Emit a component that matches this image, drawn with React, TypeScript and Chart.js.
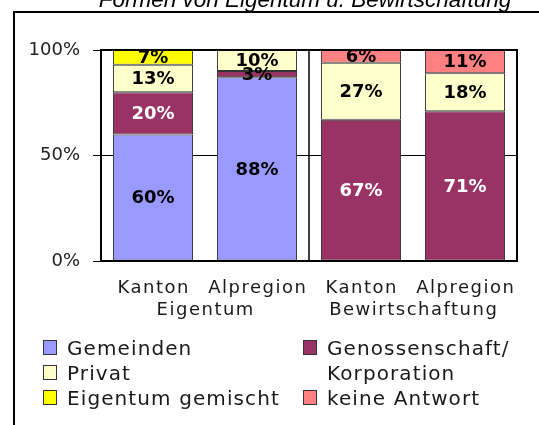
import React, { useEffect, useRef } from 'react';
import { Chart, registerables } from 'chart.js';
Chart.register(...registerables);

const TITLE = 'Formen von Eigentum u. Bewirtschaftung';
const categories = ['Kanton', 'Alpregion', 'Kanton', 'Alpregion'];
const groups = ['Eigentum', 'Bewirtschaftung'];
const groupSpans = [[0, 1], [2, 3]];
const seriesNames = ['Gemeinden', 'Genossenschaft/\nKorporation', 'Privat', 'Eigentum gemischt', 'keine Antwort'];
const gemeinden = [60, 88, 0, 0];
const genossenschaft = [20, 3, 67, 71];
const privat = [13, 10, 27, 18];
const gemischt = [7, 0, 0, 0];
const keineAntwort = [0, 0, 6, 11];
const colors = ['#9999FF', '#993366', '#FFFFCC', '#FFFF00', '#FF8080'];
const yTicks = [0, 50, 100];

const series = [gemeinden, genossenschaft, privat, gemischt, keineAntwort];
const totals = categories.map((_, j) => series.reduce((s, arr) => s + arr[j], 0));

const FONT = '"DejaVu Sans", sans-serif';

const deco = {
  id: 'deco',
  beforeDraw(chart: any) {
    const ctx = chart.ctx;
    ctx.save();
    ctx.fillStyle = '#fff';
    ctx.fillRect(0, 0, chart.width, chart.height);
    ctx.strokeStyle = '#000';
    ctx.lineWidth = 2;
    ctx.strokeRect(14, 12, 700, 600);
    ctx.fillStyle = '#000';
    ctx.font = 'italic 22.5px "Liberation Sans", Arial, sans-serif';
    ctx.textAlign = 'center';
    ctx.textBaseline = 'alphabetic';
    ctx.fillText(TITLE, 305, 7);
    ctx.restore();
  },
  beforeDatasetsDraw(chart: any) {
    const ctx = chart.ctx;
    const x = chart.scales.x;
    const a = chart.chartArea;
    ctx.save();
    ctx.strokeStyle = '#000';
    ctx.lineWidth = 1.5;
    for (let g = 0; g < groupSpans.length - 1; g++) {
      const px = (x.getPixelForTick(groupSpans[g][1]) + x.getPixelForTick(groupSpans[g + 1][0])) / 2;
      ctx.beginPath();
      ctx.moveTo(px, a.top);
      ctx.lineTo(px, a.bottom);
      ctx.stroke();
    }
    ctx.restore();
  },
  afterDatasetsDraw(chart: any) {
    const ctx = chart.ctx;
    const a = chart.chartArea;
    ctx.save();
    ctx.strokeStyle = '#000';
    ctx.lineWidth = 2;
    ctx.strokeRect(a.left, a.top, a.right - a.left, a.bottom - a.top);
    // data labels
    ctx.font = 'bold 18px ' + FONT;
    ctx.textAlign = 'center';
    ctx.textBaseline = 'middle';
    chart.data.datasets.forEach((ds: any, i: number) => {
      const meta = chart.getDatasetMeta(i);
      meta.data.forEach((el: any, j: number) => {
        const raw = series[i][j];
        if (!raw) return;
        const cy = (el.y + el.base) / 2;
        ctx.fillStyle = i === 1 && raw >= 5 ? '#fff' : '#000';
        ctx.fillText(raw + '%', el.x, cy + 1);
      });
    });
    ctx.restore();
  },
  afterDraw(chart: any) {
    const ctx = chart.ctx;
    const x = chart.scales.x;
    ctx.save();
    ctx.fillStyle = '#1a1a1a';
    ctx.textAlign = 'center';
    ctx.textBaseline = 'alphabetic';
    ctx.font = '18px ' + FONT;
    const ls = 1.5;
    (ctx as any).letterSpacing = ls + 'px';
    categories.forEach((c, j) => {
      ctx.fillText(c, x.getPixelForTick(j) + ls / 2, 292.5);
    });
    groups.forEach((g, k) => {
      const cx = (x.getPixelForTick(groupSpans[k][0]) + x.getPixelForTick(groupSpans[k][1])) / 2;
      ctx.fillText(g, cx + ls / 2, 315);
    });
    // legend
    const cols = [43, 303];
    const row0 = 355;
    const rowH = 25;
    const occ: boolean[][] = [];
    const isOcc = (r: number, c: number) => occ[r] && occ[r][c];
    ctx.font = '20px ' + FONT;
    (ctx as any).letterSpacing = '1.1px';
    ctx.textAlign = 'left';
    let r = 0, c = 0;
    seriesNames.forEach((name, i) => {
      while (isOcc(r, c)) { c++; if (c >= cols.length) { c = 0; r++; } }
      const lines = name.split('\n');
      for (let k = 0; k < lines.length; k++) { occ[r + k] = occ[r + k] || []; occ[r + k][c] = true; }
      const sx = cols[c];
      const by = row0 + r * rowH;
      ctx.fillStyle = colors[i];
      ctx.fillRect(sx, by - 15, 13, 14);
      ctx.strokeStyle = '#333';
      ctx.lineWidth = 1;
      ctx.strokeRect(sx + 0.5, by - 14.5, 13, 14);
      ctx.fillStyle = '#1a1a1a';
      lines.forEach((ln, k) => ctx.fillText(ln, sx + 24, by + k * rowH));
      c++; if (c >= cols.length) { c = 0; r++; }
    });
    ctx.restore();
  },
};

export default function App() {
  const ref = useRef<HTMLCanvasElement>(null);
  useEffect(() => {
    if (!ref.current) return;
    const chart = new Chart(ref.current, {
      type: 'bar',
      data: {
        labels: categories,
        datasets: series.map((arr, i) => ({
          label: seriesNames[i],
          data: arr.map((v, j) => (v ? (v / totals[j]) * 100 : null)),
          backgroundColor: colors[i],
          borderColor: '#333',
          borderWidth: 1,
          borderSkipped: false,
          barPercentage: 0.77,
          categoryPercentage: 1,
        })),
      },
      options: {
        responsive: false,
        devicePixelRatio: 1,
        animation: false,
        layout: { padding: { left: 0, top: 50, right: 22, bottom: 0 } },
        plugins: { legend: { display: false }, tooltip: { enabled: false }, title: { display: false } },
        scales: {
          x: {
            stacked: true,
            ticks: { display: false },
            grid: { display: false },
            border: { display: false },
            afterFit(scale: any) { scale.height = 164; },
          },
          y: {
            stacked: true,
            min: 0,
            max: 100,
            afterBuildTicks(scale: any) { scale.ticks = yTicks.map((v) => ({ value: v })); },
            ticks: {
              callback: (v: any) => v + '%',
              font: { family: FONT, size: 18 },
              color: '#222',
              padding: 13,
            },
            grid: { color: '#000', lineWidth: 1, tickLength: 8, tickColor: '#000', drawTicks: true },
            border: { display: false },
            afterFit(scale: any) { scale.width = 101; },
          },
        },
      },
      plugins: [deco],
    });
    return () => chart.destroy();
  }, []);
  return (
    <div style={{ position: 'fixed', left: 0, top: 0, width: 539, height: 425, background: '#fff' }}>
      <canvas ref={ref} width={539} height={425} style={{ display: 'block', width: 539, height: 425 }} />
    </div>
  );
}
